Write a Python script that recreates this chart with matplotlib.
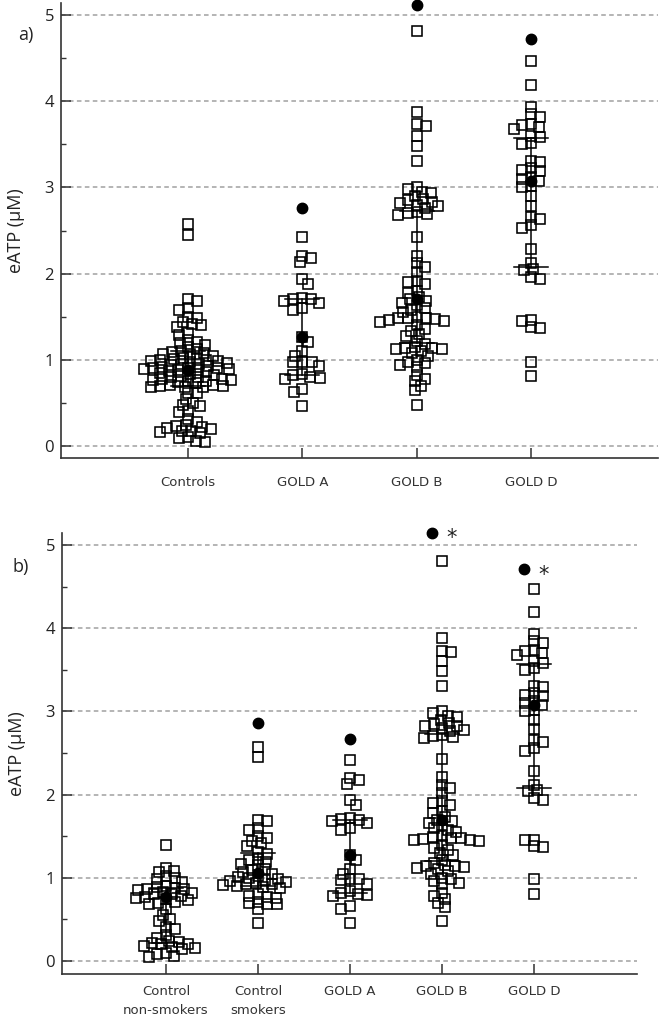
import numpy as np
import matplotlib
matplotlib.use('Agg')
import matplotlib.pyplot as plt
from matplotlib.ticker import MultipleLocator

plt.rcParams['font.family'] = ['Open Sans', 'DejaVu Sans']

# ---------------- data (eATP, µM) ----------------
control_nonsmokers = [1.40, 1.12, 1.08, 1.07, 1.02, 1.00, 0.99, 0.95, 0.90, 0.89, 0.88, 0.87,
                      0.86, 0.85, 0.83, 0.82, 0.81, 0.80, 0.78, 0.77, 0.76, 0.74, 0.73, 0.71,
                      0.70, 0.68, 0.62, 0.55, 0.50, 0.48, 0.41, 0.39, 0.31, 0.28, 0.24, 0.23,
                      0.22, 0.21, 0.20, 0.18, 0.17, 0.16, 0.15, 0.10, 0.09, 0.06, 0.05]
control_smokers = [2.57, 2.45, 1.70, 1.68, 1.60, 1.58, 1.50, 1.48, 1.44, 1.42, 1.38, 1.31,
                   1.29, 1.23, 1.21, 1.19, 1.17, 1.15, 1.10, 1.09, 1.07, 1.05, 1.02, 1.01,
                   1.00, 0.99, 0.97, 0.96, 0.95, 0.94, 0.93, 0.92, 0.91, 0.90, 0.89, 0.88,
                   0.80, 0.78, 0.77, 0.76, 0.71, 0.70, 0.69, 0.68, 0.62, 0.46]
gold_a = [2.42, 2.20, 2.18, 2.13, 1.94, 1.88, 1.72, 1.71, 1.70, 1.68, 1.66, 1.60, 1.58,
          1.27, 1.21, 1.10, 1.05, 0.98, 0.98, 0.97, 0.93, 0.84, 0.82, 0.80, 0.79, 0.78,
          0.66, 0.63, 0.46]
gold_b = [4.81, 3.88, 3.73, 3.71, 3.60, 3.48, 3.31, 3.01, 2.98, 2.95, 2.93, 2.90, 2.86,
          2.85, 2.83, 2.82, 2.80, 2.78, 2.76, 2.72, 2.70, 2.69, 2.68, 2.43, 2.21, 2.12,
          2.08, 2.02, 1.92, 1.90, 1.88, 1.80, 1.78, 1.73, 1.70, 1.68, 1.66, 1.64, 1.60,
          1.58, 1.55, 1.50, 1.49, 1.48, 1.48, 1.47, 1.46, 1.45, 1.44, 1.40, 1.36, 1.34,
          1.30, 1.28, 1.22, 1.18, 1.15, 1.14, 1.14, 1.13, 1.12, 1.10, 1.08, 1.05, 1.00,
          0.98, 0.96, 0.94, 0.92, 0.82, 0.78, 0.75, 0.70, 0.65, 0.48]
gold_d = [4.47, 4.19, 3.93, 3.85, 3.82, 3.74, 3.72, 3.70, 3.68, 3.60, 3.58, 3.52, 3.50,
          3.31, 3.29, 3.22, 3.20, 3.19, 3.12, 3.10, 3.08, 3.02, 3.00, 2.90, 2.79, 2.66,
          2.63, 2.56, 2.53, 2.28, 2.12, 2.05, 2.04, 1.96, 1.94, 1.46, 1.45, 1.38, 1.37,
          0.98, 0.81]
controls = control_nonsmokers + control_smokers

cats_a = ['Controls', 'GOLD A', 'GOLD B', 'GOLD D']
groups_a = [controls, gold_a, gold_b, gold_d]
median_a = [0.88, 1.27, 1.70, 3.08]
q1_a = [0.70, 0.82, 1.20, 2.08]
q3_a = [1.10, 1.70, 2.73, 3.57]
top_a = [np.nan, 2.76, 5.12, 4.72]

cats_b = ['Control\nnon-smokers', 'Control\nsmokers', 'GOLD A', 'GOLD B', 'GOLD D']
groups_b = [control_nonsmokers, control_smokers, gold_a, gold_b, gold_d]
median_b = [0.77, 1.06, 1.27, 1.70, 3.08]
q1_b = [0.22, 0.90, 0.82, 1.20, 2.08]
q3_b = [0.88, 1.30, 1.70, 2.73, 3.57]
top_b = [np.nan, 2.86, 2.67, 5.15, 4.71]
star_b = ['', '', '', '*', '*']

W, H = 659, 1023
fig = plt.figure(figsize=(W / 100, H / 100), dpi=100)


def px_axes(l, t, r, b):
    return fig.add_axes([l / W, 1 - b / H, (r - l) / W, (b - t) / H])


def swarm(ax, pos, values, w=9.5, h=6.2):
    """Elliptical beeswarm layout computed in pixel space."""
    vals = np.asarray(values, float)
    pts = ax.transData.transform(np.column_stack([np.full(len(vals), pos), vals]))
    ypx = pts[:, 1]
    xc = pts[0, 0]
    order = np.argsort(-ypx)
    placed = []
    offs = np.zeros(len(vals))
    flip = 1
    for i in order:
        y = ypx[i]
        near = [(xo, yo) for xo, yo in placed if abs(yo - y) < h]
        cands = [0.0]
        for xo, yo in near:
            dx = w * np.sqrt(max(0.0, 1 - ((yo - y) / h) ** 2))
            cands += [xo + dx, xo - dx]
        cands = sorted(set(np.round(cands, 3)), key=lambda c: (abs(c), -flip * np.sign(c)))
        for c in cands:
            ok = True
            for xo, yo in near:
                if ((c - xo) / w) ** 2 + ((y - yo) / h) ** 2 < 1 - 1e-3:
                    ok = False
                    break
            if ok:
                offs[i] = c
                if c != 0:
                    flip = -flip
                break
        placed.append((offs[i], y))
    xdata = ax.transData.inverted().transform(np.column_stack([xc + offs, ypx]))[:, 0]
    return xdata


def style(ax, cats, ylab_pad, xpad):
    for s in ['top', 'right']:
        ax.spines[s].set_visible(False)
    for s in ['left', 'bottom']:
        ax.spines[s].set_color('#333333')
        ax.spines[s].set_linewidth(1.2)
    ax.yaxis.set_major_locator(MultipleLocator(1))
    ax.yaxis.set_minor_locator(MultipleLocator(0.5))
    ax.tick_params(axis='y', which='major', direction='in', length=7, width=1.1,
                   labelsize=12, pad=5, colors='#333333', labelcolor='#222222')
    ax.tick_params(axis='y', which='minor', direction='in', length=3.5, width=1.0,
                   colors='#333333')
    ax.set_xticks(range(len(cats)))
    ax.set_xticklabels(cats, fontsize=9.5, family='DejaVu Sans', color='#333333',
                       linespacing=1.6)
    ax.tick_params(axis='x', direction='in', length=7, width=1.1, pad=xpad, colors='#333333')
    ax.grid(axis='y', which='major', color='#a0a0a0', linestyle=(0, (3, 2.2)), linewidth=1.1)
    ax.set_axisbelow(True)
    ax.set_ylabel('eATP (μM)', fontsize=13, color='#222222', labelpad=ylab_pad)


def panel(ax, cats, groups, med, q1, q3, top, cap_half, stars=None):
    for i, vals in enumerate(groups):
        xs = swarm(ax, i, vals)
        ax.plot(xs, vals, linestyle='none', marker='s', markersize=6.6,
                markerfacecolor='none', markeredgecolor='black', markeredgewidth=1.15,
                zorder=3)
        ax.plot([i, i], [q1[i], q3[i]], color='black', lw=1.1, zorder=4)
        ax.plot([i - cap_half, i + cap_half], [q1[i], q1[i]], color='black', lw=1.1, zorder=4)
        ax.plot([i - cap_half, i + cap_half], [q3[i], q3[i]], color='black', lw=1.1, zorder=4)
        ax.plot([i], [med[i]], marker='o', markersize=7.5, color='black', zorder=5)
        if not np.isnan(top[i]):
            shift = 0.0
            if stars is not None and stars[i]:
                shift = -0.11
            ax.plot([i + shift], [top[i]], marker='o', markersize=7.5, color='black',
                    zorder=5, clip_on=False)
            if stars is not None and stars[i]:
                ax.annotate(stars[i], xy=(i + shift, top[i]), xytext=(14, -4),
                            textcoords='offset points', ha='center', va='center',
                            fontsize=15, family='DejaVu Sans', color='#222222')


# ---------------- panel a ----------------
ax1 = px_axes(61, 3, 658, 458)
ax1.set_xlim(-1.11, 4.11)
ax1.set_ylim(-0.139, 5.139)
style(ax1, cats_a, 14, 13)
panel(ax1, cats_a, groups_a, median_a, q1_a, q3_a, top_a, 0.15)
fig.text(18 / W, 1 - 35 / H, 'a)', fontsize=13, ha='left', va='center', color='#222222')

# ---------------- panel b ----------------
ax2 = px_axes(62, 533, 637, 974)
ax2.set_xlim(-1.13, 5.12)
ax2.set_ylim(-0.156, 5.144)
style(ax2, cats_b, 14, 8)
panel(ax2, cats_b, groups_b, median_b, q1_b, q3_b, top_b, 0.185, stars=star_b)
fig.text(12 / W, 1 - 567 / H, 'b)', fontsize=13, ha='left', va='center', color='#222222')

fig.savefig('out.png', dpi=100)
